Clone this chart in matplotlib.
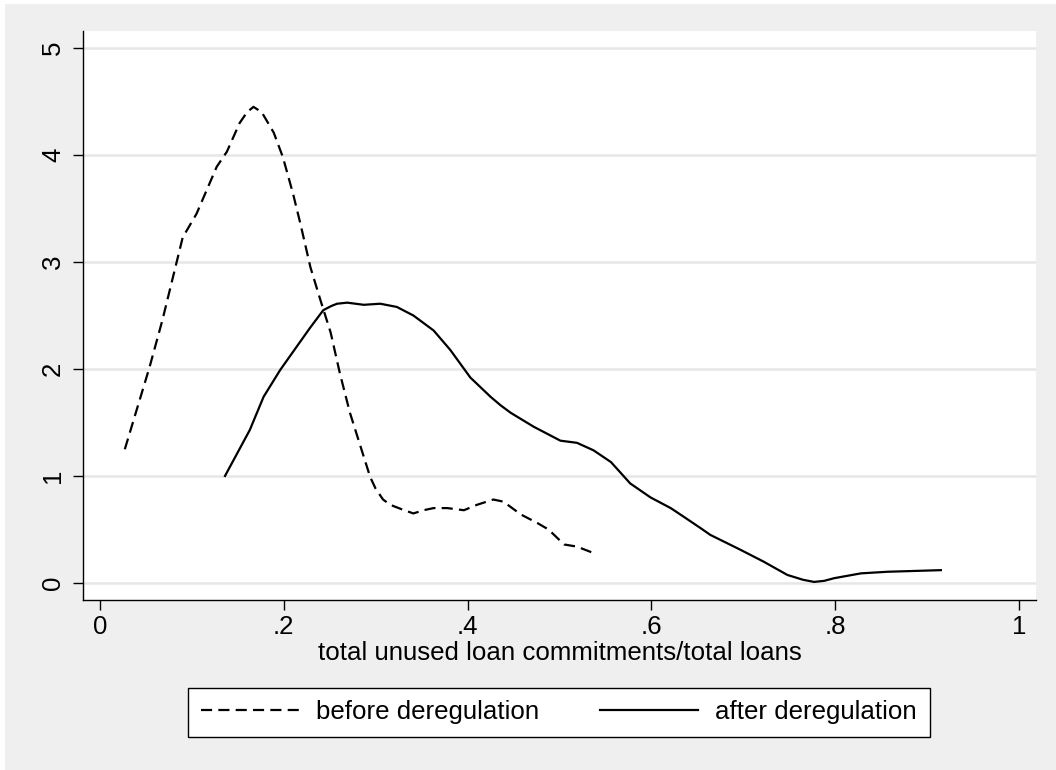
import matplotlib
matplotlib.use("Agg")
import matplotlib.pyplot as plt
from matplotlib.patches import Rectangle

plt.rcParams['font.family'] = ['Liberation Sans', 'DejaVu Sans']

# before deregulation (dashed)
before_x = [0.027, 0.054, 0.068, 0.084, 0.090, 0.105, 0.116, 0.127, 0.138, 0.152,
            0.160, 0.167, 0.176, 0.189, 0.199, 0.210, 0.218, 0.229, 0.240, 0.251,
            0.261, 0.272, 0.287, 0.294, 0.300, 0.308, 0.316, 0.328, 0.341, 0.352,
            0.363, 0.378, 0.396, 0.410, 0.428, 0.439, 0.458, 0.476, 0.488, 0.505,
            0.519, 0.537]
before_y = [1.25, 2.02, 2.46, 3.02, 3.23, 3.45, 3.67, 3.89, 4.03, 4.30,
            4.40, 4.45, 4.40, 4.21, 3.98, 3.64, 3.36, 2.95, 2.64, 2.34,
            1.96, 1.59, 1.18, 0.99, 0.88, 0.78, 0.73, 0.69, 0.65, 0.68,
            0.70, 0.70, 0.68, 0.73, 0.78, 0.76, 0.64, 0.56, 0.50, 0.36,
            0.34, 0.28]

# after deregulation (solid)
after_x = [0.136, 0.163, 0.178, 0.196, 0.210, 0.229, 0.243, 0.252, 0.258, 0.269,
           0.287, 0.305, 0.323, 0.341, 0.363, 0.381, 0.403, 0.425, 0.436, 0.447,
           0.472, 0.501, 0.519, 0.537, 0.556, 0.577, 0.599, 0.621, 0.635, 0.654,
           0.664, 0.697, 0.722, 0.748, 0.765, 0.777, 0.788, 0.799, 0.828, 0.857,
           0.915]
after_y = [1.00, 1.43, 1.74, 1.99, 2.16, 2.39, 2.55, 2.59, 2.61, 2.62,
           2.60, 2.61, 2.58, 2.50, 2.36, 2.18, 1.92, 1.74, 1.66, 1.59,
           1.46, 1.33, 1.31, 1.24, 1.13, 0.93, 0.80, 0.70, 0.62, 0.51,
           0.45, 0.31, 0.20, 0.075, 0.03, 0.01, 0.02, 0.045, 0.09, 0.105,
           0.12]

x_ticks = [0, 0.2, 0.4, 0.6, 0.8, 1]
x_labels = ['0', '.2', '.4', '.6', '.8', '1']
y_ticks = [0, 1, 2, 3, 4, 5]
y_labels = ['0', '1', '2', '3', '4', '5']

W, H = 1056, 770
FS = 18.6
fig = plt.figure(figsize=(W / 100, H / 100), dpi=100)
fig.patch.set_facecolor('white')
fig.patches.append(Rectangle((5 / W, 0), 1, 1 - 4 / H, transform=fig.transFigure,
                             facecolor='#efefef', edgecolor='none', zorder=-10))

ax = fig.add_axes([83 / W, (H - 600) / H, (1036 - 83) / W, (600 - 31) / H])
ax.set_facecolor('white')

ax.plot(before_x, before_y, color='black', lw=1.6, linestyle=(0, (5, 2.8)),
        label='before deregulation', solid_joinstyle='round', dash_joinstyle='round')
ax.plot(after_x, after_y, color='black', lw=1.6, linestyle='-',
        label='after deregulation', solid_joinstyle='round')

ax.set_xlim(-0.0185, 1.0185)
ax.set_ylim(-0.159, 5.159)
ax.set_xticks(x_ticks)
ax.set_xticklabels(x_labels)
ax.set_yticks(y_ticks)
ax.set_yticklabels(y_labels, rotation=90, va='center')

for s in ['top', 'right']:
    ax.spines[s].set_visible(False)
for s in ['left', 'bottom']:
    ax.spines[s].set_linewidth(1.0)
    ax.spines[s].set_color('black')

ax.tick_params(axis='both', length=7, width=1.0, labelsize=FS, colors='black')
ax.tick_params(axis='x', pad=4)
ax.tick_params(axis='y', pad=6)

ax.yaxis.grid(True, color='#e6e6e6', lw=1.8)
ax.set_axisbelow(True)

ax.set_xlabel('total unused loan commitments/total loans', fontsize=FS, labelpad=1)

leg = fig.legend(loc='center', bbox_to_anchor=(559 / W, 1 - 712.5 / H), ncol=2,
                 fontsize=FS, frameon=True, fancybox=False, edgecolor='black',
                 facecolor='white', framealpha=1, handlelength=3.8,
                 handletextpad=0.66, columnspacing=2.35, borderpad=0.5,
                 borderaxespad=0)
leg.get_frame().set_linewidth(1.0)

fig.savefig('out.png', dpi=100, facecolor=fig.get_facecolor())
